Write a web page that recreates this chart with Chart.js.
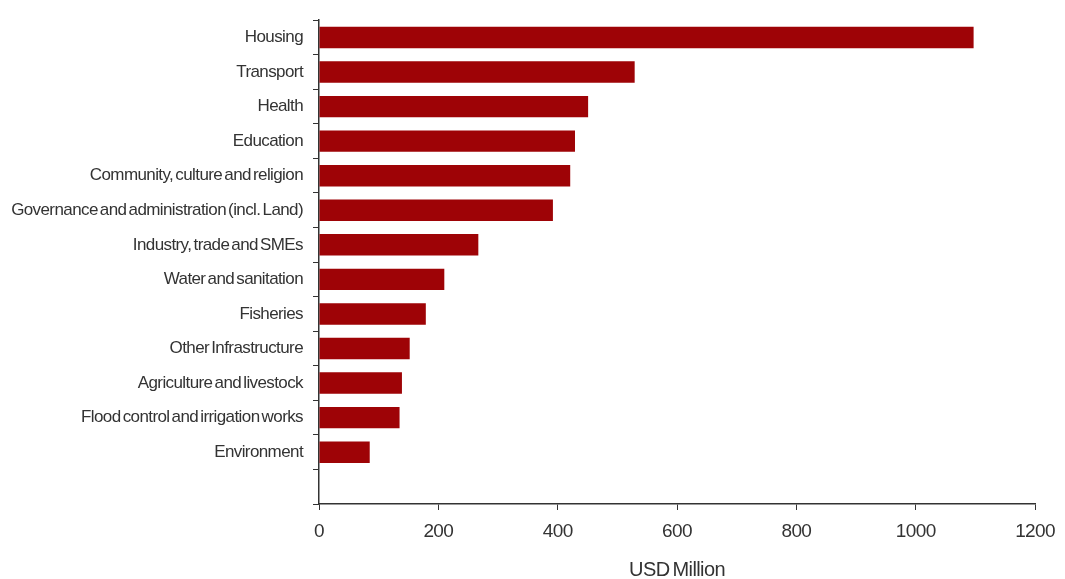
<!DOCTYPE html>
<html>
<head>
<meta charset="utf-8">
<script src="https://cdn.jsdelivr.net/npm/chart.js@4"></script>
<style>
  html, body { margin: 0; padding: 0; background: #fff; }
  #wrap { width: 1065px; height: 579px; }
</style>
</head>
<body>
<div id="wrap"><canvas id="mainChart"></canvas></div>
<script>
const sectors = [
    'Housing',
    'Transport',
    'Health',
    'Education',
    'Community, culture and religion',
    'Governance and administration (incl. Land)',
    'Industry, trade and SMEs',
    'Water and sanitation',
    'Fisheries',
    'Other Infrastructure',
    'Agriculture and livestock',
    'Flood control and irrigation works',
    'Environment',
    ''
];
const needs = [1097, 529, 451, 429, 421, 392, 267, 210, 179, 152, 139, 135, 85, null];
const xTicks = [0, 200, 400, 600, 800, 1000, 1200];

const textColor = '#333';
const barColor = '#9e0306';

// tight tracking and squeezed word gaps, like the original labels
const tracking = {
    id: 'tracking',
    beforeUpdate(chart) {
        chart.ctx.letterSpacing = '-0.6px';
        chart.ctx.wordSpacing = '-2px';
    },
    beforeDraw(chart) {
        chart.ctx.letterSpacing = '-0.6px';
        chart.ctx.wordSpacing = '-2px';
    }
};

const ctx = document.getElementById('mainChart').getContext('2d');
window.mainChart = new Chart(ctx, {
    type: 'bar',
    data: {
        labels: sectors,
        datasets: [{
            data: needs,
            backgroundColor: barColor,
            borderWidth: 0,
            barPercentage: 0.62,
            categoryPercentage: 1
        }]
    },
    options: {
        indexAxis: 'y',
        responsive: true,
        maintainAspectRatio: false,
        animation: false,
        layout: { padding: { top: 16, right: 21, left: 0, bottom: 0 } },
        plugins: {
            legend: { display: false },
            tooltip: { enabled: false }
        },
        scales: {
            x: {
                min: 0,
                max: 1200,
                afterBuildTicks: (scale) => { scale.ticks = xTicks.map(v => ({ value: v })); },
                grid: { drawOnChartArea: false, tickLength: 6, color: textColor, lineWidth: 1 },
                border: { color: textColor, width: 1.5 },
                ticks: {
                    color: textColor,
                    font: { family: 'Liberation Sans', size: 19 },
                    padding: 10,
                    callback: (v) => String(v)
                },
                title: {
                    display: true,
                    text: 'USD Million',
                    color: textColor,
                    font: { family: 'Liberation Sans', size: 20 },
                    padding: { top: 8, bottom: -3 }
                },
                afterFit: (scale) => { scale.height = 75; }
            },
            y: {
                grid: { drawOnChartArea: false, offset: true, tickLength: 6, color: textColor, lineWidth: 1 },
                border: { color: textColor, width: 1.5 },
                ticks: { color: textColor, font: { family: 'Liberation Sans', size: 17 }, padding: 10, autoSkip: false },
                afterFit: (scale) => { scale.width = 319; }
            }
        }
    },
    plugins: [tracking]
});
</script>
</body>
</html>
